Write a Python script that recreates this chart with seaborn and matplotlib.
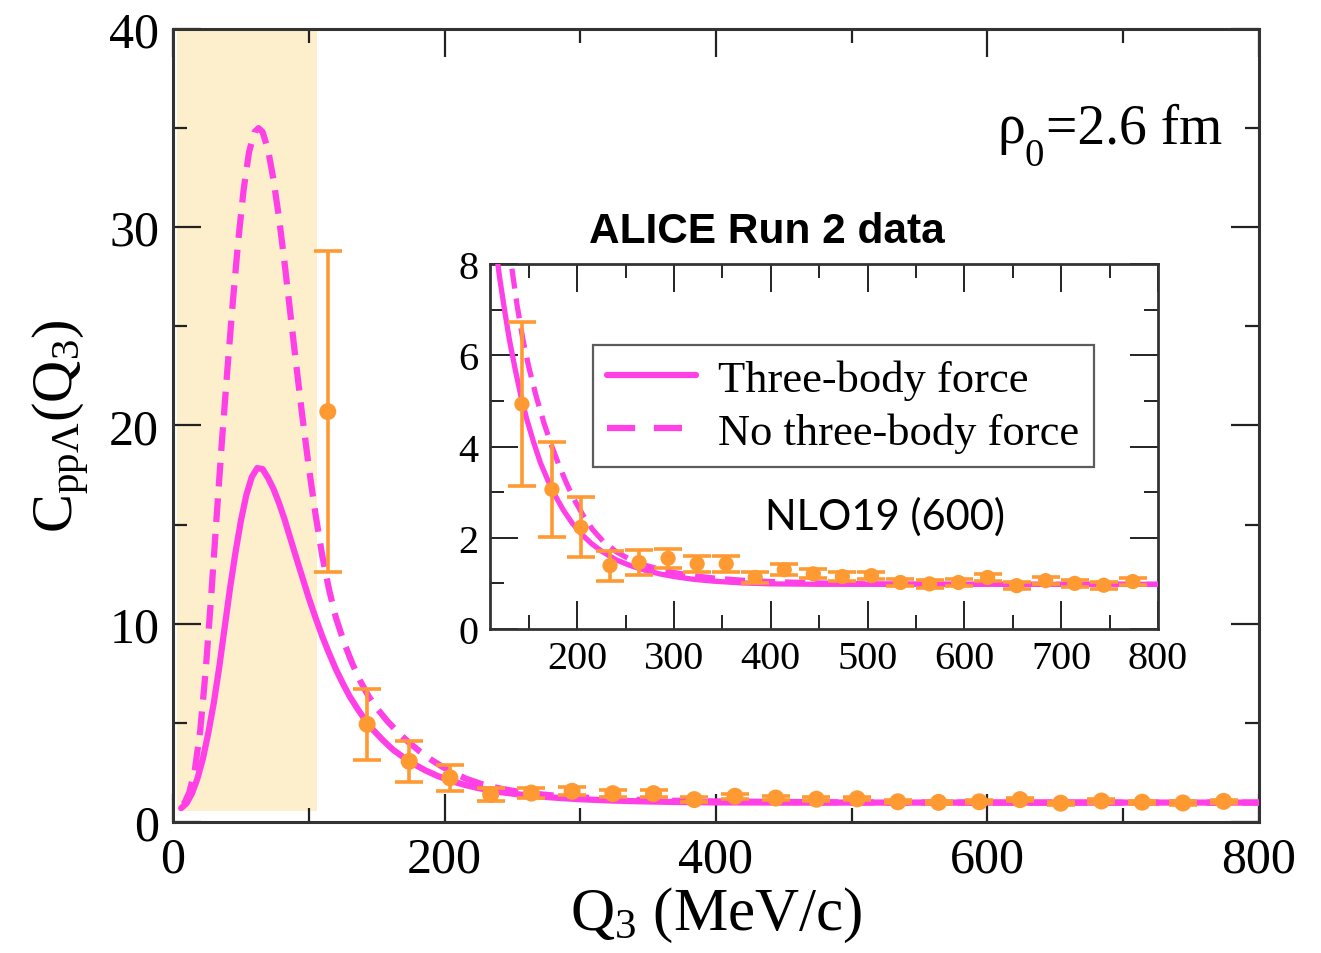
import numpy as np
import pandas as pd
import matplotlib
matplotlib.use("Agg")
import matplotlib.pyplot as plt
import seaborn as sns
from matplotlib.lines import Line2D
from matplotlib.ticker import MultipleLocator

# ---------------- data ----------------
q_3bf = [6, 10, 14, 18, 22, 26, 30, 34, 38, 42, 46, 50, 54, 58, 62, 66, 70, 74, 78, 82,
         86, 90, 95, 100, 105, 110, 115, 120, 125, 130, 136, 142, 148, 155, 162, 170,
         178, 186, 195, 205, 215, 225, 240, 255, 270, 285, 300, 320, 340, 370, 400,
         450, 500, 600, 700, 800]
c_3bf = [0.7, 0.95, 1.45, 2.2, 3.2, 4.5, 6.0, 7.8, 9.8, 11.8, 13.6, 15.2, 16.5, 17.4,
         17.85, 17.8, 17.35, 16.8, 16.1, 15.3, 14.4, 13.5, 12.4, 11.3, 10.3, 9.35, 8.5,
         7.7, 7.0, 6.35, 5.7, 5.1, 4.6, 4.1, 3.65, 3.25, 2.9, 2.6, 2.32, 2.07, 1.87,
         1.71, 1.52, 1.39, 1.29, 1.21, 1.15, 1.09, 1.05, 1.01, 0.99, 0.98, 0.98, 0.98,
         0.98, 0.98]

q_no3bf = [8, 12, 16, 20, 24, 28, 32, 36, 40, 44, 48, 52, 56, 60, 63, 66, 70, 74, 78, 82,
           86, 90, 95, 100, 105, 110, 115, 120, 126, 132, 138, 144, 150, 158, 166, 174,
           182, 190, 198, 206, 216, 227, 240, 255, 270, 285, 300, 320, 340, 370, 400,
           450, 500, 600, 700, 800]
c_no3bf = [0.9, 1.5, 2.6, 4.6, 7.6, 11.3, 15.3, 19.2, 22.8, 26.2, 29.3, 31.9, 33.8, 34.8,
           35.0, 34.8, 33.9, 32.4, 30.5, 28.3, 25.9, 23.5, 20.6, 17.9, 15.5, 13.4, 11.7,
           10.3, 9.05, 8.0, 7.1, 6.35, 5.75, 5.08, 4.5, 4.0, 3.55, 3.15, 2.8, 2.5, 2.18,
           1.92, 1.7, 1.52, 1.4, 1.31, 1.24, 1.17, 1.12, 1.07, 1.04, 1.01, 0.99, 0.98,
           0.98, 0.98]

alice_q = [114, 143, 174, 204, 234, 264, 294, 324, 354, 384, 414, 444, 474, 504, 534,
           564, 594, 624, 654, 684, 714, 744, 774]
alice_c = [20.7, 4.93, 3.06, 2.23, 1.39, 1.46, 1.55, 1.43, 1.43, 1.13, 1.30, 1.21, 1.15,
           1.17, 1.02, 0.99, 1.02, 1.13, 0.95, 1.06, 1.00, 0.96, 1.04]
alice_err = [8.1, 1.8, 1.04, 0.66, 0.33, 0.27, 0.21, 0.18, 0.18, 0.12, 0.12, 0.10, 0.10,
             0.08, 0.08, 0.08, 0.08, 0.08, 0.08, 0.08, 0.08, 0.08, 0.08]

labels = ["Three-body force", "No three-body force"]

# ---------------- style ----------------
sns.set_theme(style="ticks")
plt.rcParams["font.family"] = ["Liberation Serif", "DejaVu Serif"]
plt.rcParams["mathtext.fontset"] = "custom"
plt.rcParams["mathtext.rm"] = "Liberation Serif"
plt.rcParams["mathtext.it"] = "Liberation Serif:italic"
plt.rcParams["mathtext.bf"] = "Liberation Serif:bold"
plt.rcParams["text.color"] = "black"
plt.rcParams["axes.labelcolor"] = "black"
plt.rcParams["legend.labelcolor"] = "black"

MAG = "#ff40e6"
ORA = "#ff9a33"
SHADE = "#fdefcb"
DASH = (3.8, 1.9)

df_a = pd.DataFrame({"q": q_3bf, "c": c_3bf})
df_b = pd.DataFrame({"q": q_no3bf, "c": c_no3bf})
df_d = pd.DataFrame({"q": alice_q, "c": alice_c, "e": alice_err})

W, H = 1321, 954
fig = plt.figure(figsize=(W / 100, H / 100), dpi=100)
ax = fig.add_axes([0.131, 0.1373, 0.822, 0.8313])


def draw(a, lw, ms):
    sns.lineplot(data=df_a, x="q", y="c", ax=a, color=MAG, lw=lw, legend=False,
                 estimator=None, sort=False, zorder=3)
    sns.lineplot(data=df_b, x="q", y="c", ax=a, color=MAG, lw=lw, legend=False,
                 estimator=None, sort=False, zorder=3)
    a.lines[-1].set_dashes(DASH)
    a.errorbar(df_d["q"], df_d["c"], yerr=df_d["e"], fmt="none", ecolor=ORA,
               elinewidth=2.6, capsize=10, capthick=2.6, zorder=4)
    sns.scatterplot(data=df_d, x="q", y="c", ax=a, color=ORA, s=ms, edgecolor="none",
                    zorder=5, legend=False)


# main panel
ax.fill_between([3, 106], 0.55, 40, color=SHADE, lw=0, zorder=0)
draw(ax, 4.5, 150)
ax.set_xlim(0, 800)
ax.set_ylim(0, 40)
ax.xaxis.set_major_locator(MultipleLocator(200))
ax.xaxis.set_minor_locator(MultipleLocator(100))
ax.yaxis.set_major_locator(MultipleLocator(10))
ax.yaxis.set_minor_locator(MultipleLocator(5))
ax.tick_params(which="both", direction="in", top=True, right=True, width=1.6,
               colors="#222222", labelcolor="black")
ax.tick_params(which="major", length=20, labelsize=36, pad=10)
ax.tick_params(which="minor", length=10)
for s in ax.spines.values():
    s.set_linewidth(2.2)
    s.set_color("#333333")
ax.set_xlabel("Q$_3$ (MeV/c)", fontsize=44, labelpad=2)
ax.set_ylabel(r"C$_{\mathrm{pp}\Lambda}$(Q$_3$)", fontsize=42, labelpad=12)

# inset
ins = fig.add_axes([0.3709, 0.3396, 0.5057, 0.3826])
draw(ins, 3.8, 120)
ins.set_xlim(110, 800)
ins.set_ylim(0, 8)
ins.xaxis.set_major_locator(MultipleLocator(100))
ins.xaxis.set_minor_locator(MultipleLocator(50))
ins.yaxis.set_major_locator(MultipleLocator(2))
ins.yaxis.set_minor_locator(MultipleLocator(1))
ins.tick_params(which="both", direction="in", top=True, right=True, width=1.4,
                colors="#222222", labelcolor="black")
ins.tick_params(which="major", length=20, labelsize=29, pad=8)
ins.tick_params(which="minor", length=10)
ins.set_xlabel("")
ins.set_ylabel("")
for s in ins.spines.values():
    s.set_linewidth(2.0)
    s.set_color("#333333")

handles = [Line2D([], [], color=MAG, lw=4.5),
           Line2D([], [], color=MAG, lw=4.5, dashes=(4.5, 3.0))]
leg = ins.legend(handles, labels, loc="upper left", bbox_to_anchor=(0.154, 0.778),
                 fontsize=32, frameon=True, fancybox=False, edgecolor="#333333",
                 handlelength=2.0, handletextpad=0.5, labelspacing=0.28,
                 borderpad=0.32, borderaxespad=0, labelcolor="black")
leg.get_frame().set_linewidth(1.6)

fig.text(767 / W, 1 - 232 / H, "ALICE Run 2 data", ha="center", va="center",
         fontsize=30.5, fontweight="bold", color="black",
         family=["Liberation Sans", "DejaVu Sans"])
fig.text(885 / W, 1 - 517 / H, "NLO19 (600)", ha="center", va="center",
         fontsize=30, color="black", family=["Lato", "DejaVu Sans"])

# rho_0 = 2.6 fm  (built from pieces so the subscript is large, as in the original)
fig.canvas.draw()
r = fig.canvas.get_renderer()
t_main = fig.text(1222 / W, 1 - 143 / H, "=2.6 fm", ha="right", va="baseline",
                  fontsize=40, color="black")
x0 = t_main.get_window_extent(r).x0
t_sub = fig.text((x0 - 2) / W, 1 - 166 / H, "0", ha="right", va="baseline",
                 fontsize=28, color="black")
x1 = t_sub.get_window_extent(r).x0
fig.text((x1 + 1) / W, 1 - 143 / H, "ρ", ha="right", va="baseline", fontsize=40,
         color="black")

fig.savefig("out.png", dpi=100)
